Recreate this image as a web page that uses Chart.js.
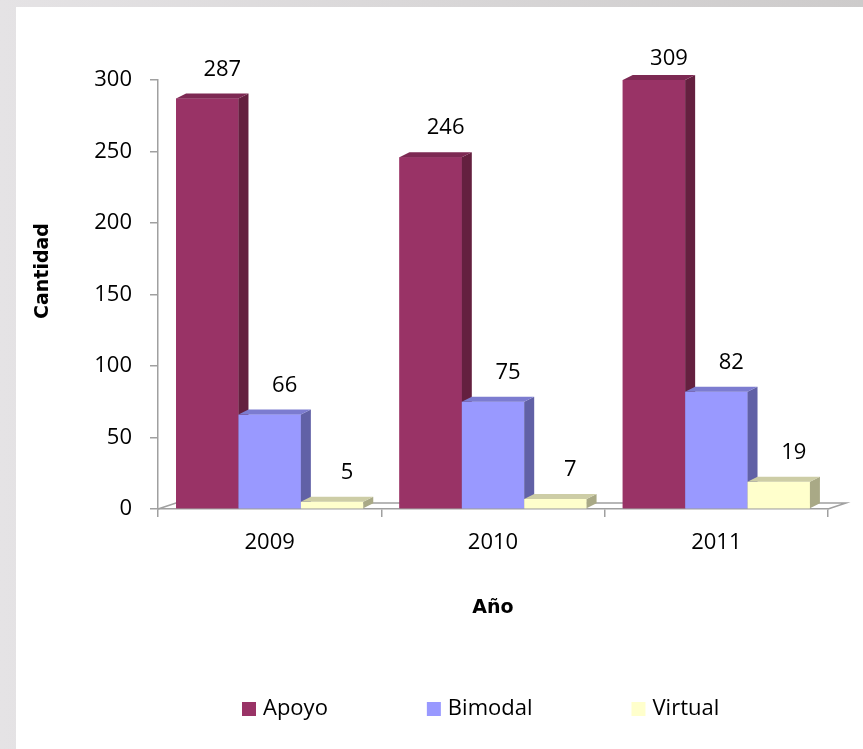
<!DOCTYPE html>
<html>
<head>
<meta charset="utf-8">
<script src="https://cdn.jsdelivr.net/npm/chart.js@4.4.1/dist/chart.umd.min.js"></script>
<style>
  html, body { margin: 0; padding: 0; overflow: hidden; }
  body { width: 863px; height: 749px; position: relative; background: linear-gradient(to right, #e5e3e5, #cdcbcb); }
  #sheet { position: absolute; left: 16px; top: 7px; right: 0; bottom: 0; background: #fff; }
  #myChart { position: absolute; left: 0; top: 0; }
</style>
</head>
<body>
<div id="sheet"></div>
<canvas id="myChart" width="863" height="749"></canvas>
<script>
// datos
const years = ['2009', '2010', '2011'];
const apoyo = [287, 246, 309];
const bimodal = [66, 75, 82];
const virtual = [5, 7, 19];

const yMax = 300;
const yStep = 50;

// colores (frente, lado, tapa)
const colors = {
  Apoyo:   { front: '#993366', side: '#64203f', top: '#7d2953' },
  Bimodal: { front: '#9999ff', side: '#6161a6', top: '#7c7cd0' },
  Virtual: { front: '#ffffcc', side: '#a9a986', top: '#cdcda6' }
};

const depthX = 10, depthY = -5;
const axisGray = '#a0a0a0';
const tickFont = { family: 'Open Sans', size: 22 };

// piso + barras en 3D (Excel recorta la barra al máximo del eje)
const bars3d = {
  id: 'bars3d',
  beforeDatasetsDraw(chart) {
    const { ctx, chartArea: a } = chart;
    ctx.save();
    ctx.strokeStyle = axisGray;
    ctx.lineWidth = 1.5;
    ctx.beginPath();
    ctx.moveTo(a.left, a.bottom);
    ctx.lineTo(a.left + 18, a.bottom - 6);
    ctx.lineTo(a.right + 18, a.bottom - 6);
    ctx.lineTo(a.right, a.bottom);
    ctx.stroke();
    ctx.restore();
  },
  afterDatasetsDraw(chart) {
    const { ctx, chartArea: a } = chart;
    ctx.save();
    for (let i = 0; i < chart.data.labels.length; i++) {
      chart.data.datasets.forEach((ds, d) => {
        const el = chart.getDatasetMeta(d).data[i];
        const c = colors[ds.label];
        const x0 = el.x - el.width / 2, x1 = el.x + el.width / 2;
        const top = Math.max(el.y, a.top), base = el.base;
        ctx.fillStyle = c.front;
        ctx.fillRect(x0, top, x1 - x0, base - top);
        ctx.fillStyle = c.side;
        ctx.beginPath();
        ctx.moveTo(x1, top);
        ctx.lineTo(x1 + depthX, top + depthY);
        ctx.lineTo(x1 + depthX, base + depthY);
        ctx.lineTo(x1, base);
        ctx.closePath();
        ctx.fill();
        ctx.fillStyle = c.top;
        ctx.beginPath();
        ctx.moveTo(x0, top);
        ctx.lineTo(x1, top);
        ctx.lineTo(x1 + depthX, top + depthY);
        ctx.lineTo(x0 + depthX, top + depthY);
        ctx.closePath();
        ctx.fill();
      });
    }
    ctx.restore();
  },
  afterDraw(chart) {
    const { ctx, chartArea: a } = chart;
    ctx.save();
    // etiquetas de valores
    ctx.font = '22px "Open Sans"';
    ctx.fillStyle = '#000';
    ctx.textAlign = 'center';
    ctx.textBaseline = 'middle';
    chart.data.datasets.forEach((ds, d) => {
      chart.getDatasetMeta(d).data.forEach((el, i) => {
        const top = Math.max(el.y, a.top);
        const y = Math.max(top - 29, 59);
        ctx.fillText(String(ds.data[i]), el.x + 15, y);
      });
    });
    // leyenda
    let x = a.left + 84;
    const ly = 709;
    ctx.textAlign = 'left';
    chart.data.datasets.forEach(ds => {
      ctx.fillStyle = colors[ds.label].front;
      ctx.fillRect(x, ly - 7, 14, 14);
      ctx.fillStyle = '#000';
      ctx.fillText(ds.label, x + 21, ly);
      x += 21 + ctx.measureText(ds.label).width + 99;
    });
    // título del eje Y
    ctx.font = 'bold 19px "DejaVu Sans"';
    ctx.textAlign = 'center';
    ctx.translate(43, 271);
    ctx.rotate(-Math.PI / 2);
    ctx.fillText('Cantidad', 0, 0);
    ctx.restore();
  }
};

const data = {
  labels: years,
  datasets: [
    { label: 'Apoyo', data: apoyo, backgroundColor: colors.Apoyo.front },
    { label: 'Bimodal', data: bimodal, backgroundColor: colors.Bimodal.front },
    { label: 'Virtual', data: virtual, backgroundColor: colors.Virtual.front }
  ]
};

const config = {
  type: 'bar',
  data: data,
  options: {
    responsive: false,
    animation: false,
    datasets: { bar: { categoryPercentage: 0.838, barPercentage: 1, borderWidth: 0 } },
    layout: { padding: { top: 80, right: 35, bottom: 110, left: 0 } },
    plugins: {
      legend: { display: false },
      tooltip: { enabled: false }
    },
    scales: {
      x: {
        afterFit: s => { s.height = 130; },
        grid: { display: true, drawOnChartArea: false, drawTicks: true, tickLength: 8, color: axisGray, lineWidth: 1.5 },
        border: { display: true, color: axisGray, width: 1.5 },
        ticks: { font: tickFont, color: '#000', padding: 13 },
        title: { display: true, text: 'Año', color: '#000', font: { family: 'DejaVu Sans', size: 19, weight: 'bold' }, padding: { top: 0, bottom: 20 } }
      },
      y: {
        min: 0,
        max: yMax,
        afterFit: s => { s.width = 158; },
        grid: { display: true, drawOnChartArea: false, drawTicks: true, tickLength: 8, color: axisGray, lineWidth: 1.5 },
        border: { display: true, color: axisGray, width: 1.5 },
        ticks: { stepSize: yStep, font: tickFont, color: '#000', padding: 18 },
        title: { display: false, text: 'Cantidad' }
      }
    }
  },
  plugins: [bars3d]
};

const ctx = document.getElementById('myChart').getContext('2d');
new Chart(ctx, config);
</script>
</body>
</html>
